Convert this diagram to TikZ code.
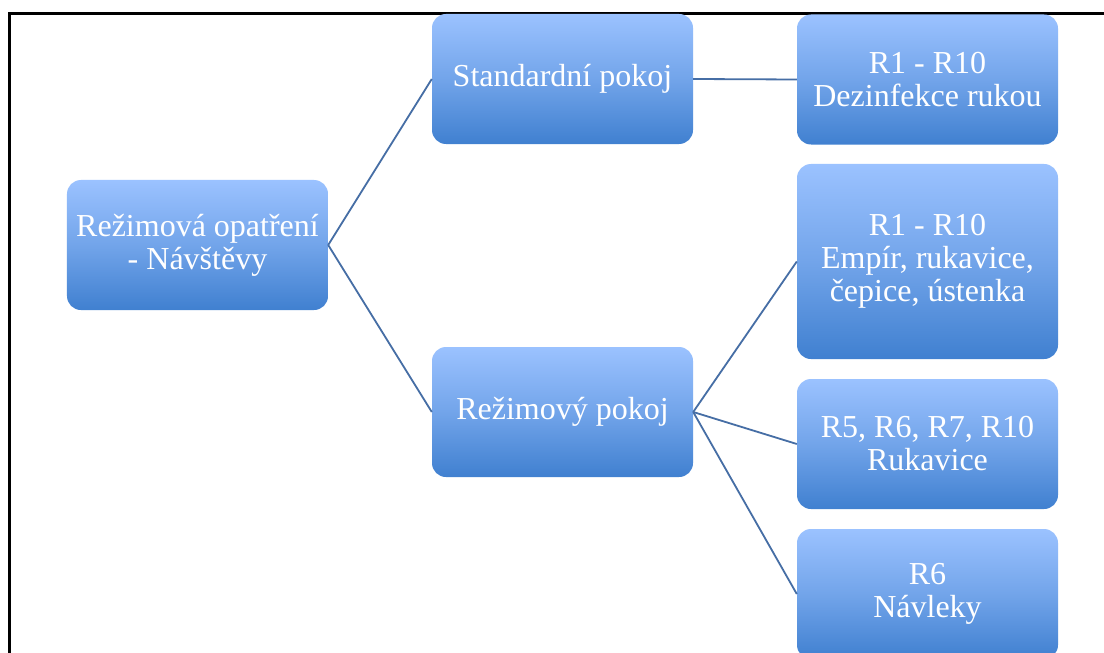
\documentclass[tikz,border=0pt]{standalone}
\usepackage{fontspec}
\setmainfont{Liberation Serif}
\definecolor{boxtop}{RGB}{155,194,255}
\definecolor{boxbot}{RGB}{64,128,208}
\definecolor{linkblue}{RGB}{70,110,165}
\begin{document}
\begin{tikzpicture}[x=1bp,y=-1bp,
  box/.style={rounded corners=14bp, top color=boxtop, bottom color=boxbot,
    middle color=boxtop!55!boxbot, draw=none, inner sep=0pt,
    minimum width=261bp, minimum height=130bp, align=center,
    text=white, font=\fontsize{32bp}{33bp}\selectfont},
  link/.style={draw=linkblue, line width=1.8bp}]
\useasboundingbox (0,0) rectangle (1104,653);
\fill[white] (0,0) rectangle (1104,653);
% outer frame (right and bottom edges lie off the page)
\draw[line width=3bp] (9,14) rectangle (1120,680);

\node[box] (root) at (197.5,245) {Režimová opatření\\- Návštěvy};
\node[box] (std) at (562.5,79) {Standardní pokoj};
\node[box] (rez) at (562.5,412) {Režimový pokoj};
\node[box] (dez) at (927.5,79.5) {R1 - R10\\Dezinfekce rukou};
\node[box, minimum height=195bp] (emp) at (927.5,261.5) {R1 - R10\\Empír, rukavice,\\čepice, ústenka};
\node[box] (ruk) at (927.5,444) {R5, R6, R7, R10\\Rukavice};
\node[box] (nav) at (927.5,594) {R6\\Návleky};

\draw[link] (root.east) -- (std.west);
\draw[link] (root.east) -- (rez.west);
\draw[link] (std.east) -- (dez.west);
\draw[link] (rez.east) -- (emp.west);
\draw[link] (rez.east) -- (ruk.west);
\draw[link] (rez.east) -- (nav.west);
\end{tikzpicture}
\end{document}
